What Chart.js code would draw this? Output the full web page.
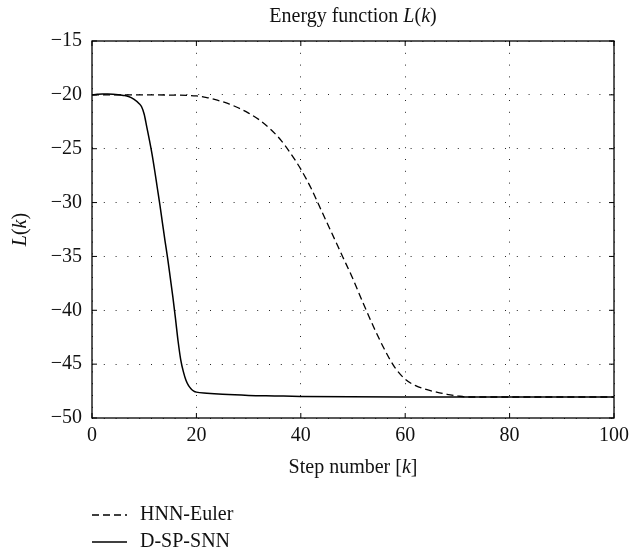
<!DOCTYPE html>
<html>
<head>
<meta charset="utf-8">
<script src="https://cdn.jsdelivr.net/npm/chart.js@4"></script>
<style>
  html,body{margin:0;padding:0;background:#fff}
  #wrap{width:635px;height:558px}
</style>
</head>
<body>
<div id="wrap"><canvas id="chart" width="635" height="558"></canvas></div>
<script>
// values
const hnnK = [0,5,10,15,20,22,24,26,28,30,32,34,36,38,40,42,44,46,48,50,52,54,56,58,60,62,64,66,68,70,72,80,100];
const hnnL = [-20.0,-20.0,-20.0,-20.02,-20.1,-20.25,-20.5,-20.8,-21.2,-21.7,-22.3,-23.1,-24.1,-25.4,-26.9,-28.7,-30.8,-32.9,-35.0,-37.1,-39.4,-41.6,-43.6,-45.3,-46.4,-47.0,-47.35,-47.6,-47.8,-47.95,-48.05,-48.05,-48.05];

const snnK = [0,1,2,3,4,5,6,7,8,9,9.5,10,10.5,11,11.5,12,12.5,13,13.5,14,14.5,15,15.5,16,16.5,17,17.5,18,18.5,19,19.5,20,22,25,30,35,40,60,80,100];
const snnL = [-20.0,-19.95,-19.92,-19.92,-19.94,-19.98,-20.05,-20.15,-20.4,-20.8,-21.1,-21.8,-23.0,-24.2,-25.5,-27.0,-28.6,-30.2,-31.9,-33.6,-35.2,-37.0,-38.8,-40.8,-42.9,-44.6,-45.7,-46.5,-47.0,-47.3,-47.5,-47.6,-47.7,-47.8,-47.9,-47.95,-48.0,-48.05,-48.05,-48.05];

const seriesNames = ['HNN-Euler','D-SP-SNN'];
const xTicks = [0,20,40,60,80,100];
const yTicks = [-50,-45,-40,-35,-30,-25,-20,-15];

const FONT = '"Liberation Serif", "Times New Roman", serif';
const FS = 20;

function pts(ks, ls){ return ks.map((k,i)=>({x:k, y:ls[i]})); }

// draw text made of normal / italic pieces
function richText(ctx, parts, x, y, align){
  let w = 0;
  parts.forEach(p=>{
    ctx.font = (p[1] ? 'italic ' : '') + FS + 'px ' + FONT;
    w += ctx.measureText(p[0]).width;
  });
  let cx = align==='center' ? x - w/2 : x;
  ctx.textAlign = 'left';
  ctx.textBaseline = 'middle';
  ctx.fillStyle = '#111';
  parts.forEach(p=>{
    ctx.font = (p[1] ? 'italic ' : '') + FS + 'px ' + FONT;
    ctx.fillText(p[0], cx, y);
    cx += ctx.measureText(p[0]).width;
  });
}

const decor = {
  id:'decor',
  afterDraw(chart){
    const ctx = chart.ctx, a = chart.chartArea;
    const xs = chart.scales.x, ys = chart.scales.y;
    ctx.save();
    // frame
    ctx.strokeStyle = '#000';
    ctx.lineWidth = 1.3;
    ctx.setLineDash([]);
    ctx.strokeRect(a.left, a.top, a.right-a.left, a.bottom-a.top);
    // inward tick marks
    ctx.lineWidth = 1;
    ctx.beginPath();
    xTicks.forEach(v=>{
      const px = xs.getPixelForValue(v);
      ctx.moveTo(px, a.bottom); ctx.lineTo(px, a.bottom-5);
      ctx.moveTo(px, a.top); ctx.lineTo(px, a.top+5);
    });
    yTicks.forEach(v=>{
      const py = ys.getPixelForValue(v);
      ctx.moveTo(a.left, py); ctx.lineTo(a.left+5, py);
      ctx.moveTo(a.right, py); ctx.lineTo(a.right-5, py);
    });
    ctx.stroke();

    const midX = (a.left+a.right)/2;
    richText(ctx, [['Energy function ',0],['L',1],['(',0],['k',1],[')',0]], midX, 17, 'center');
    richText(ctx, [['Step number [',0],['k',1],[']',0]], midX, 468, 'center');

    // y title, rotated
    ctx.save();
    ctx.translate(21, (a.top+a.bottom)/2);
    ctx.rotate(-Math.PI/2);
    richText(ctx, [['L',1],['(',0],['k',1],[')',0]], 0, 0, 'center');
    ctx.restore();

    // legend
    const legY = [515, 542];
    chart.data.datasets.forEach((ds,i)=>{
      ctx.strokeStyle = '#000';
      ctx.lineWidth = 1.3;
      ctx.setLineDash(ds.borderDash || []);
      ctx.beginPath();
      ctx.moveTo(92, legY[i]); ctx.lineTo(127, legY[i]);
      ctx.stroke();
      ctx.setLineDash([]);
      richText(ctx, [[ds.label,0]], 140, legY[i], 'left');
    });
    ctx.restore();
  }
};

new Chart(document.getElementById('chart'), {
  type:'line',
  data:{
    datasets:[
      {label:seriesNames[0], data:pts(hnnK,hnnL), borderColor:'#000', borderWidth:1.3,
       borderDash:[7,4], pointRadius:0, cubicInterpolationMode:'monotone', fill:false},
      {label:seriesNames[1], data:pts(snnK,snnL), borderColor:'#000', borderWidth:1.5,
       pointRadius:0, cubicInterpolationMode:'monotone', fill:false}
    ]
  },
  options:{
    responsive:false,
    animation:false,
    layout:{padding:{top:41, right:13.5, left:0, bottom:0}},
    plugins:{legend:{display:false}, title:{display:false}, tooltip:{enabled:false}},
    scales:{
      x:{
        type:'linear', min:0, max:100,
        afterFit: s => { s.height = 140; },
        afterBuildTicks: s => { s.ticks = xTicks.map(v=>({value:v})); },
        grid:{color:'rgba(0,0,0,0.85)', lineWidth:1, drawTicks:false},
        border:{display:false, dash:[1,10.8]},
        ticks:{color:'#111', padding:6, font:{family:FONT, size:FS}}
      },
      y:{
        min:-50, max:-15,
        afterFit: s => { s.width = 92; },
        afterBuildTicks: s => { s.ticks = yTicks.map(v=>({value:v})); },
        grid:{color:'rgba(0,0,0,0.85)', lineWidth:1, drawTicks:false},
        border:{display:false, dash:[1,10.8]},
        ticks:{color:'#111', padding:10, font:{family:FONT, size:FS},
               callback: v => String(v).replace('-', '\u2212')}
      }
    }
  },
  plugins:[decor]
});
</script>
</body>
</html>
